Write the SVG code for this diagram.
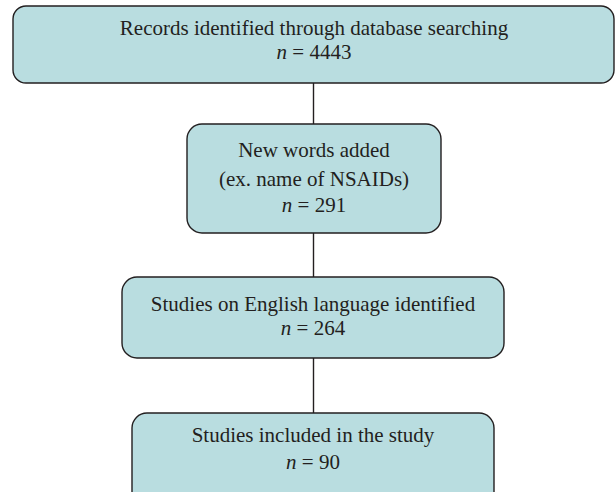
<svg xmlns="http://www.w3.org/2000/svg" width="615" height="492" viewBox="0 0 615 492">
<style>
.box{fill:#b9dde0;stroke:#231f20;stroke-width:1.4}
.lbl{font-family:"Liberation Serif","Times New Roman",serif;font-size:21px;fill:#231f20;text-anchor:middle}
.it{font-style:italic}
.conn{stroke:#231f20;stroke-width:1.4;fill:none}
</style>
<rect width="615" height="492" fill="#ffffff"/>
<g id="connectors">
<line class="conn" x1="313.5" y1="83" x2="313.5" y2="124"/>
<line class="conn" x1="313.5" y1="233" x2="313.5" y2="277"/>
<line class="conn" x1="313.5" y1="358" x2="313.5" y2="413"/>
</g>
<g id="node1">
<rect class="box" x="13" y="6" width="601" height="77" rx="13"/>
<text class="lbl" x="314" y="35">Records identified through database searching</text>
<text class="lbl" x="314" y="59"><tspan class="it">n</tspan> = 4443</text>
</g>
<g id="node2">
<rect class="box" x="187" y="124" width="254" height="109" rx="15"/>
<text class="lbl" x="314" y="157">New words added</text>
<text class="lbl" x="314" y="186">(ex. name of NSAIDs)</text>
<text class="lbl" x="314" y="212"><tspan class="it">n</tspan> = 291</text>
</g>
<g id="node3">
<rect class="box" x="122" y="277" width="382" height="81" rx="15"/>
<text class="lbl" x="313" y="311">Studies on English language identified</text>
<text class="lbl" x="313" y="335"><tspan class="it">n</tspan> = 264</text>
</g>
<g id="node4">
<rect class="box" x="132" y="413" width="362" height="95" rx="15"/>
<text class="lbl" x="313" y="442">Studies included in the study</text>
<text class="lbl" x="313" y="469"><tspan class="it">n</tspan> = 90</text>
</g>
</svg>
